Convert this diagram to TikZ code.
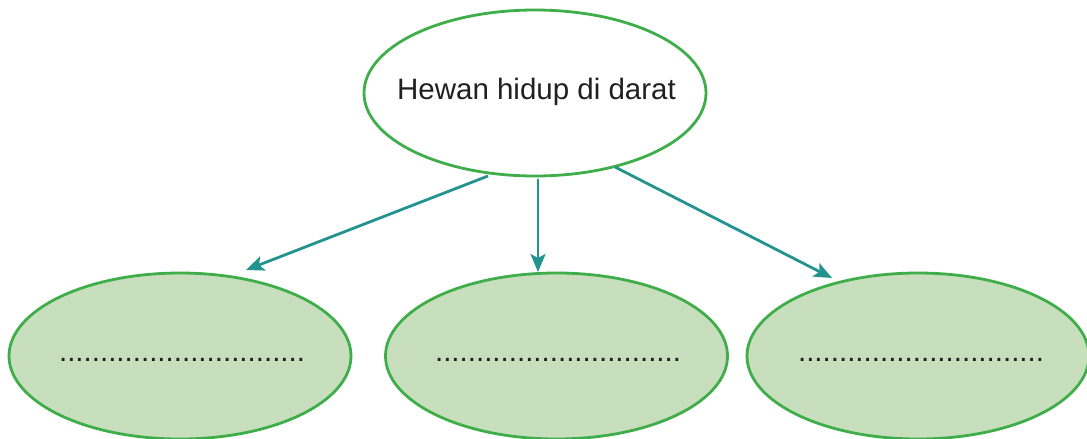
\documentclass[tikz,border=0pt]{standalone}
\usepackage{fontspec}
\setmainfont{Liberation Sans}
\usetikzlibrary{shapes.geometric,arrows.meta}
\definecolor{egreen}{HTML}{3FAE4A}
\definecolor{efill}{HTML}{C8DFBD}
\definecolor{arrteal}{HTML}{23938F}
\definecolor{txt}{HTML}{231F20}
\tikzset{
  topell/.style={ellipse, draw=egreen, line width=2.8pt, fill=white, minimum width=342pt, minimum height=166pt, inner sep=0pt},
  subell/.style={ellipse, draw=egreen, line width=2.8pt, fill=efill, minimum width=342pt, minimum height=166pt, inner sep=0pt},
  lbl/.style={inner sep=0pt, text=txt, font=\fontsize{29.5}{34}\selectfont},
  arr/.style={draw=arrteal, line width=2.8pt, -{Stealth[length=18pt,width=15pt,inset=4pt]}}
}
\begin{document}
\begin{tikzpicture}[x=1pt,y=-1pt]
\useasboundingbox (0,0) rectangle (1087,439);
\node[topell] (top) at (535,93) {};
\node[lbl] (toptext) at (536.5,92) {Hewan hidup di darat};
\node[subell] (left) at (180,356) {};
\node[lbl, anchor=base] (lefttext) at (182,361) {..............................};
\node[subell] (mid) at (556.5,356) {};
\node[lbl, anchor=base] (midtext) at (558,361) {..............................};
\node[subell] (right) at (918,356) {};
\node[lbl, anchor=base] (righttext) at (921,361) {..............................};
\coordinate (s1) at (488,176);
\coordinate (e1) at (246,270);
\coordinate (s2) at (538,179);
\coordinate (e2) at (538,272);
\coordinate (s3) at (615,167);
\coordinate (e3) at (832,278);
\draw[arr] (s1) -- (e1);
\draw[arr] (s2) -- (e2);
\draw[arr] (s3) -- (e3);
\end{tikzpicture}
\end{document}
